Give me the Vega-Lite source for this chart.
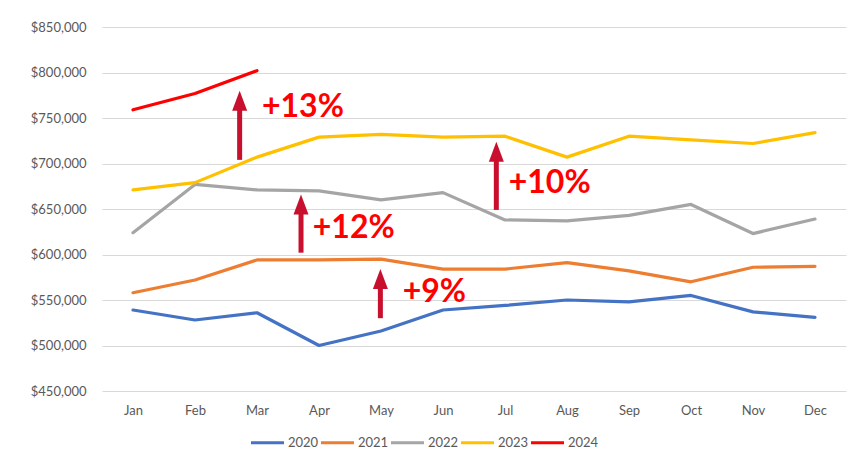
{
  "$schema": "https://vega.github.io/schema/vega-lite/v6.json",
  "width": 744,
  "height": 364,
  "autosize": {"type": "none"},
  "padding": {"left": 102, "top": 27, "right": 21, "bottom": 71},
  "background": "white",
  "config": {
    "view": {"stroke": null},
    "font": "Lato",
    "axis": {"labelFont": "Lato", "labelColor": "#595959", "labelFontSize": 13, "domain": false, "ticks": false, "title": null}
  },
  "datasets": {
    "sales": [
      {"year": "2020", "m": 0, "v": 539000}, {"year": "2020", "m": 1, "v": 528000}, {"year": "2020", "m": 2, "v": 536000},
      {"year": "2020", "m": 3, "v": 500000}, {"year": "2020", "m": 4, "v": 516000}, {"year": "2020", "m": 5, "v": 539000},
      {"year": "2020", "m": 6, "v": 544000}, {"year": "2020", "m": 7, "v": 550000}, {"year": "2020", "m": 8, "v": 548000},
      {"year": "2020", "m": 9, "v": 555000}, {"year": "2020", "m": 10, "v": 537000}, {"year": "2020", "m": 11, "v": 531000},
      {"year": "2021", "m": 0, "v": 558000}, {"year": "2021", "m": 1, "v": 572000}, {"year": "2021", "m": 2, "v": 594000},
      {"year": "2021", "m": 3, "v": 594000}, {"year": "2021", "m": 4, "v": 595000}, {"year": "2021", "m": 5, "v": 584000},
      {"year": "2021", "m": 6, "v": 584000}, {"year": "2021", "m": 7, "v": 591000}, {"year": "2021", "m": 8, "v": 582000},
      {"year": "2021", "m": 9, "v": 570000}, {"year": "2021", "m": 10, "v": 586000}, {"year": "2021", "m": 11, "v": 587000},
      {"year": "2022", "m": 0, "v": 624000}, {"year": "2022", "m": 1, "v": 677000}, {"year": "2022", "m": 2, "v": 671000},
      {"year": "2022", "m": 3, "v": 670000}, {"year": "2022", "m": 4, "v": 660000}, {"year": "2022", "m": 5, "v": 668000},
      {"year": "2022", "m": 6, "v": 638000}, {"year": "2022", "m": 7, "v": 637000}, {"year": "2022", "m": 8, "v": 643000},
      {"year": "2022", "m": 9, "v": 655000}, {"year": "2022", "m": 10, "v": 623000}, {"year": "2022", "m": 11, "v": 639000},
      {"year": "2023", "m": 0, "v": 671000}, {"year": "2023", "m": 1, "v": 679000}, {"year": "2023", "m": 2, "v": 707000},
      {"year": "2023", "m": 3, "v": 729000}, {"year": "2023", "m": 4, "v": 732000}, {"year": "2023", "m": 5, "v": 729000},
      {"year": "2023", "m": 6, "v": 730000}, {"year": "2023", "m": 7, "v": 707000}, {"year": "2023", "m": 8, "v": 730000},
      {"year": "2023", "m": 9, "v": 726000}, {"year": "2023", "m": 10, "v": 722000}, {"year": "2023", "m": 11, "v": 734000},
      {"year": "2024", "m": 0, "v": 759000}, {"year": "2024", "m": 1, "v": 777000}, {"year": "2024", "m": 2, "v": 802000}
    ],
    "arrows": [
      {"x": 1.72, "base": 704000, "neck": 765000, "tip": 780000},
      {"x": 2.71, "base": 602000, "neck": 651000, "tip": 666000},
      {"x": 3.99, "base": 530000, "neck": 569000, "tip": 584000},
      {"x": 5.86, "base": 649000, "neck": 709000, "tip": 724000}
    ],
    "labels": [
      {"x": 2.08, "y": 762000, "t": "+13%"},
      {"x": 2.90, "y": 629000, "t": "+12%"},
      {"x": 4.35, "y": 559000, "t": "+9%"},
      {"x": 6.06, "y": 679000, "t": "+10%"}
    ]
  },
  "layer": [
    {
      "data": {"name": "sales"},
      "mark": {"type": "line", "strokeCap": "round", "strokeJoin": "round"},
      "encoding": {
        "x": {
          "field": "m", "type": "quantitative",
          "scale": {"domain": [-0.5, 11.5], "nice": false, "zero": false},
          "axis": {"values": [0,1,2,3,4,5,6,7,8,9,10,11], "grid": false, "labelPadding": 13,
            "labelExpr": "['Jan','Feb','Mar','Apr','May','Jun','Jul','Aug','Sep','Oct','Nov','Dec'][datum.value]"}
        },
        "y": {
          "field": "v", "type": "quantitative",
          "scale": {"domain": [450000, 850000], "nice": false, "zero": false},
          "axis": {"values": [450000,500000,550000,600000,650000,700000,750000,800000,850000], "format": "$,.0f",
            "gridColor": "#D9D9D9", "gridWidth": 1, "labelPadding": 16}
        },
        "color": {
          "field": "year", "type": "nominal", "title": null,
          "scale": {"domain": ["2020","2021","2022","2023","2024"], "range": ["#4472C4","#ED7D31","#A5A5A5","#FFC000","#FF0000"]},
          "legend": {"orient": "none", "legendX": 147, "legendY": 397, "direction": "horizontal", "symbolType": "stroke",
            "symbolSize": 1089, "symbolStrokeWidth": 4, "labelFont": "Lato", "labelFontSize": 13, "labelColor": "#595959",
            "labelOffset": 2, "columnPadding": -9, "title": null}
        },
        "strokeWidth": {
          "field": "year", "type": "nominal", "title": null,
          "scale": {"domain": ["2020","2021","2022","2023","2024"], "range": [3.2, 3.2, 3.2, 3.2, 5.5]},
          "legend": null
        }
      }
    },
    {
      "data": {"name": "arrows"},
      "mark": {"type": "rule", "color": "#C8102E", "strokeWidth": 5},
      "encoding": {
        "x": {"field": "x", "type": "quantitative"},
        "y": {"field": "base", "type": "quantitative"},
        "y2": {"field": "neck"}
      }
    },
    {
      "data": {"name": "arrows"},
      "mark": {"type": "point", "shape": "M-0.75,2L0,0L0.75,2Z", "filled": true, "color": "#C8102E", "opacity": 1, "size": 400},
      "encoding": {
        "x": {"field": "x", "type": "quantitative"},
        "y": {"field": "tip", "type": "quantitative"}
      }
    },
    {
      "data": {"name": "labels"},
      "mark": {"type": "text", "align": "left", "baseline": "middle", "font": "Lato", "fontWeight": "bold", "fontSize": 32, "color": "#FF0000"},
      "encoding": {
        "x": {"field": "x", "type": "quantitative"},
        "y": {"field": "y", "type": "quantitative"},
        "text": {"field": "t"}
      }
    }
  ]
}
